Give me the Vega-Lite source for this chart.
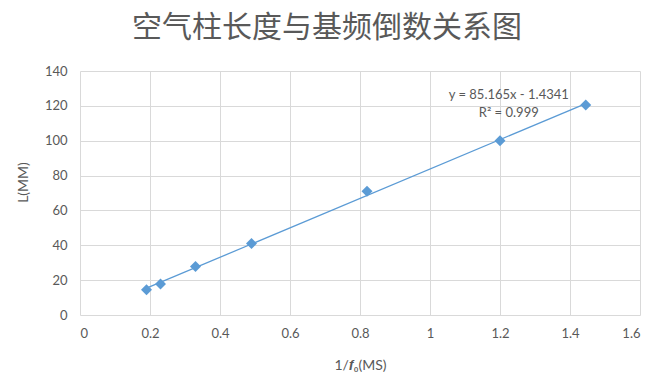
{
  "$schema": "https://vega.github.io/schema/vega-lite/v6.json",
  "autosize": {"type": "none"},
  "width": 560,
  "height": 244,
  "padding": {"left": 80, "top": 71, "right": 16, "bottom": 71},
  "background": "white",
  "title": {
    "text": "空气柱长度与基频倒数关系图",
    "font": "Noto Sans CJK SC",
    "fontSize": 30,
    "fontWeight": "normal",
    "color": "#595959",
    "anchor": "middle",
    "dx": -33,
    "offset": 22
  },
  "config": {
    "view": {"stroke": null},
    "axis": {
      "labelFont": "Lato",
      "labelFontSize": 13,
      "labelColor": "#595959",
      "labelOverlap": false,
      "titleFont": "Lato",
      "titleFontSize": 14,
      "titleFontWeight": "normal",
      "titleColor": "#595959",
      "gridColor": "#d9d9d9",
      "gridWidth": 1,
      "domain": false,
      "ticks": false
    }
  },
  "datasets": {
    "pts": [
      {"x": 0.19, "y": 14.5},
      {"x": 0.23, "y": 17.8},
      {"x": 0.33, "y": 27.8},
      {"x": 0.49, "y": 41},
      {"x": 0.82, "y": 71},
      {"x": 1.2, "y": 100},
      {"x": 1.445, "y": 120.5}
    ],
    "labels": [
      {"x": 1.225, "y": 126.5, "t": "y = 85.165x - 1.4341"},
      {"x": 1.225, "y": 116, "t": "R² = 0.999"}
    ]
  },
  "encoding": {
    "x": {
      "field": "x", "type": "quantitative",
      "scale": {"domain": [0, 1.6], "nice": false},
      "axis": {"values": [0, 0.2, 0.4, 0.6, 0.8, 1, 1.2, 1.4, 1.6], "format": "~g", "labelPadding": 12, "title": "1/𝒇₀(MS)", "titlePadding": 18, "grid": true}
    },
    "y": {
      "field": "y", "type": "quantitative",
      "scale": {"domain": [0, 140], "nice": false},
      "axis": {"values": [0, 20, 40, 60, 80, 100, 120, 140], "tickCount": 8, "labelPadding": 13, "title": "L(MM)", "titlePadding": 14, "titleY": 111, "grid": true}
    }
  },
  "layer": [
    {
      "data": {"name": "pts"},
      "transform": [{"regression": "y", "on": "x", "method": "linear"}],
      "mark": {"type": "line", "color": "#5b9bd5", "strokeWidth": 1.3}
    },
    {
      "data": {"name": "pts"},
      "mark": {"type": "point", "shape": "diamond", "filled": true, "color": "#5b9bd5", "opacity": 1, "size": 120}
    },
    {
      "data": {"name": "labels"},
      "mark": {"type": "text", "font": "Lato", "fontSize": 13, "color": "#595959", "align": "center", "baseline": "middle"},
      "encoding": {
        "text": {"field": "t"}
      }
    }
  ]
}
